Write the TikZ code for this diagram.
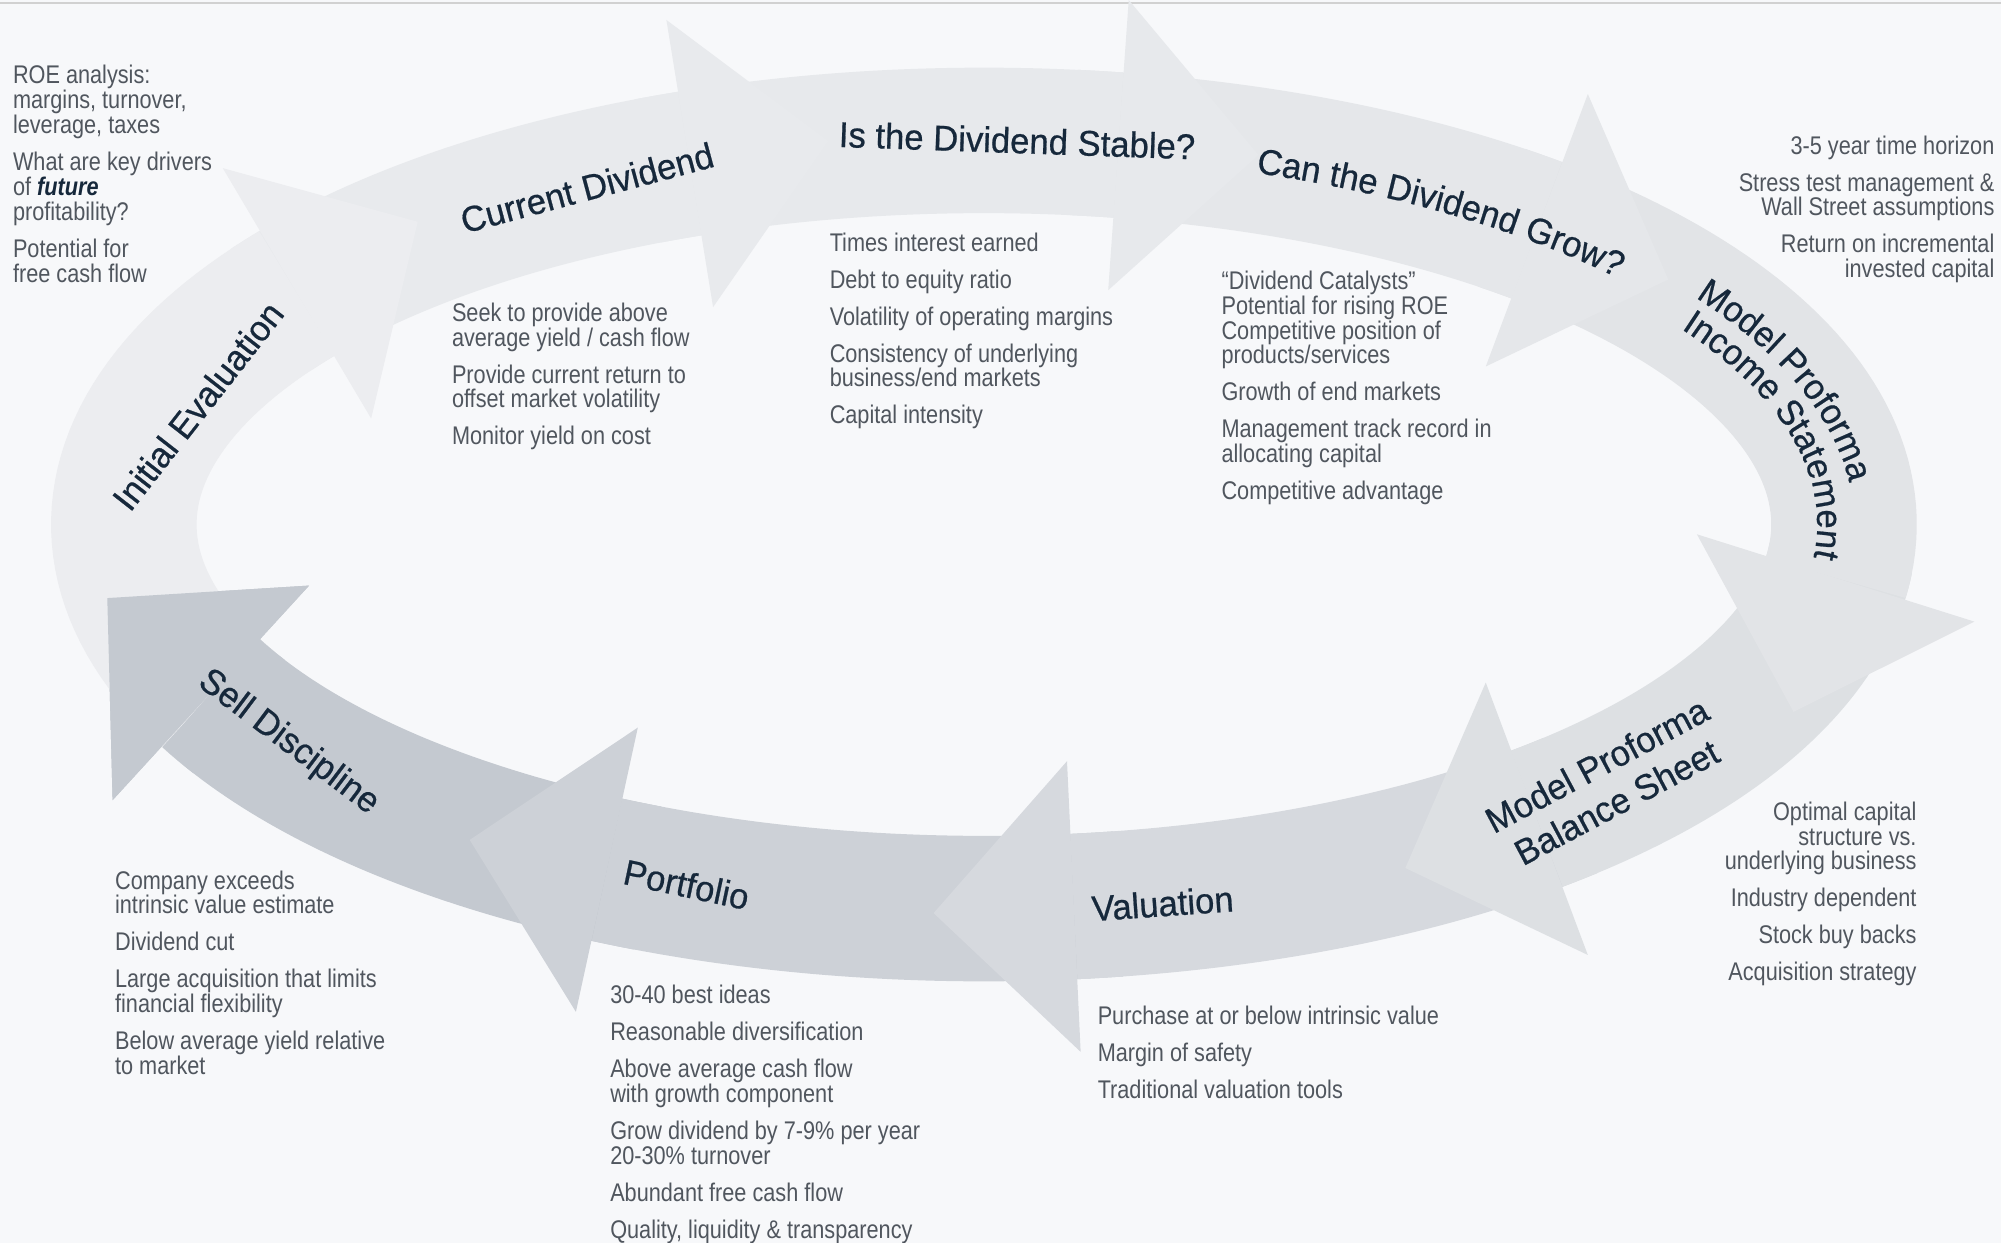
\documentclass[tikz,border=0pt]{standalone}
\usepackage{fontspec}
\setmainfont{Liberation Sans}[FakeStretch=0.85]
\newfontfamily\titlefont{Liberation Sans}[FakeStretch=0.97,FakeBold=0.6]
\usetikzlibrary{decorations.text}
\definecolor{bg}{HTML}{F7F8FA}
\definecolor{bodyc}{HTML}{50565E}
\definecolor{titlec}{HTML}{16283B}
\definecolor{ieC}{HTML}{ECEDF0}
\definecolor{cdC}{HTML}{E8EAED}
\definecolor{stC}{HTML}{E7E9EC}
\definecolor{grC}{HTML}{E5E7EA}
\definecolor{inC}{HTML}{E2E4E7}
\definecolor{baC}{HTML}{DDE0E3}
\definecolor{vaC}{HTML}{D6D9DE}
\definecolor{poC}{HTML}{CDD1D7}
\definecolor{seC}{HTML}{C4C9D0}
\def\cx{771}\def\cy{411}\def\ra{674}\def\rb{301}
\def\bw{114}\def\hw{114}\def\hl{110}
\newcommand{\ringarrow}[3]{%
  \draw[line width=\bw pt, draw=#3] plot[domain=#1:#2, samples=50] ({\cx+\ra*cos(\x)},{\cy+\rb*sin(\x)});
  \pgfmathsetmacro{\mx}{\cx+\ra*cos(#2)}%
  \pgfmathsetmacro{\my}{\cy+\rb*sin(#2)}%
  \pgfmathsetmacro{\tx}{-sin(#2)}%
  \pgfmathsetmacro{\ty}{\rb/\ra*cos(#2)}%
  \pgfmathsetmacro{\tl}{sqrt(\tx*\tx+\ty*\ty)}%
  \pgfmathsetmacro{\ux}{\tx/\tl}%
  \pgfmathsetmacro{\uy}{\ty/\tl}%
  \fill[#3] (\mx+\hw*\uy,\my-\hw*\ux) -- (\mx+\hl*\ux,\my+\hl*\uy) -- (\mx-\hw*\uy,\my+\hw*\ux) -- cycle;
}
\tikzset{
  body/.style={font=\fontsize{20}{19.5}\selectfont, text=bodyc, inner sep=0pt, align=left, anchor=north west},
  bodyr/.style={body, align=right, anchor=north east},
  title/.style={font=\titlefont\fontsize{28}{33}\selectfont, text=titlec, inner sep=0pt, align=center},
}
\newcommand{\gap}{\\[9.5pt]}
\begin{document}
\begin{tikzpicture}[x=1pt,y=-1pt]
\useasboundingbox (0,0) rectangle (1568,974);
\fill[bg] (0,0) rectangle (1568,974);
\draw[line width=1.5pt, draw=black!18] (0,2) -- (1568,2);
% ring of arrows (drawn in reverse so every head lies over the next tail)
\ringarrow{473}{514}{seC}
\ringarrow{441}{476}{poC}
\ringarrow{407}{444}{vaC}
\ringarrow{365}{410}{baC}
\ringarrow{307}{368}{inC}
\ringarrow{276}{310}{grC}
\ringarrow{247}{279}{stC}
\ringarrow{214}{250}{cdC}
\ringarrow{151}{217}{ieC}
\ringarrow{510}{514}{seC}
% titles
\node[title, rotate=52] (tIE) at (155,318) {Initial Evaluation};
\node[title, rotate=15] (tCD) at (460,147) {Current Dividend};
\node[title, rotate=-2] (tST) at (797,110) {Is the Dividend Stable?};
\path[decorate, decoration={text along path, text align=center,
  text={|\titlefont\fontsize{28}{33}\selectfont\color{titlec}|Can the Dividend Grow?}}]
  plot[domain=282.3:327.3, samples=40] ({\cx+664*cos(\x)},{\cy+291*sin(\x)});
\path[decorate, decoration={text along path, text align=center,
  text={|\titlefont\fontsize{28}{33}\selectfont\color{titlec}|Model Proforma}}]
  plot[domain=316:368, samples=40] ({\cx+682*cos(\x)},{\cy+309*sin(\x)});
\path[decorate, decoration={text along path, text align=center,
  text={|\titlefont\fontsize{28}{33}\selectfont\color{titlec}|Income Statement}}]
  plot[domain=321:374, samples=40] ({\cx+653*cos(\x)},{\cy+280*sin(\x)});
\node[title, rotate=28] (tBA) at (1259,614) {Model Proforma\\Balance Sheet};
\node[title, rotate=4] (tVA) at (911,708) {Valuation};
\node[title, rotate=-12] (tPO) at (538,693) {Portfolio};
\node[title, rotate=-37] (tSE) at (226,582) {Sell Discipline};
% body texts
\node[body] (bIE) at (10,51) {ROE analysis:\\margins, turnover,\\leverage, taxes\gap What are key drivers\\of \textcolor{titlec}{\textbf{\textit{future}}}\\profitability?\gap Potential for\\free cash flow};
\node[body] (bCD) at (354,237) {Seek to provide above\\average yield / cash flow\gap Provide current return to\\offset market volatility\gap Monitor yield on cost};
\node[body] (bST) at (650,182) {Times interest earned\gap Debt to equity ratio\gap Volatility of operating margins\gap Consistency of underlying\\business/end markets\gap Capital intensity};
\node[body] (bGR) at (957,212) {“Dividend Catalysts”\\Potential for rising ROE\\Competitive position of\\products/services\gap Growth of end markets\gap Management track record in\\allocating capital\gap Competitive advantage};
\node[bodyr] (bIN) at (1563,106) {3-5 year time horizon\gap Stress test management \&\\Wall Street assumptions\gap Return on incremental\\invested capital};
\node[bodyr] (bBA) at (1502,628) {Optimal capital\\structure vs.\\underlying business\gap Industry dependent\gap Stock buy backs\gap Acquisition strategy};
\node[body] (bVA) at (860,788) {Purchase at or below intrinsic value\gap Margin of safety\gap Traditional valuation tools};
\node[body] (bPO) at (478,772) {30-40 best ideas\gap Reasonable diversification\gap Above average cash flow\\with growth component\gap Grow dividend by 7-9\% per year\\20-30\% turnover\gap Abundant free cash flow\gap Quality, liquidity \& transparency};
\node[body] (bSE) at (90,682) {Company exceeds\\intrinsic value estimate\gap Dividend cut\gap Large acquisition that limits\\financial flexibility\gap Below average yield relative\\to market};
\end{tikzpicture}
\end{document}
